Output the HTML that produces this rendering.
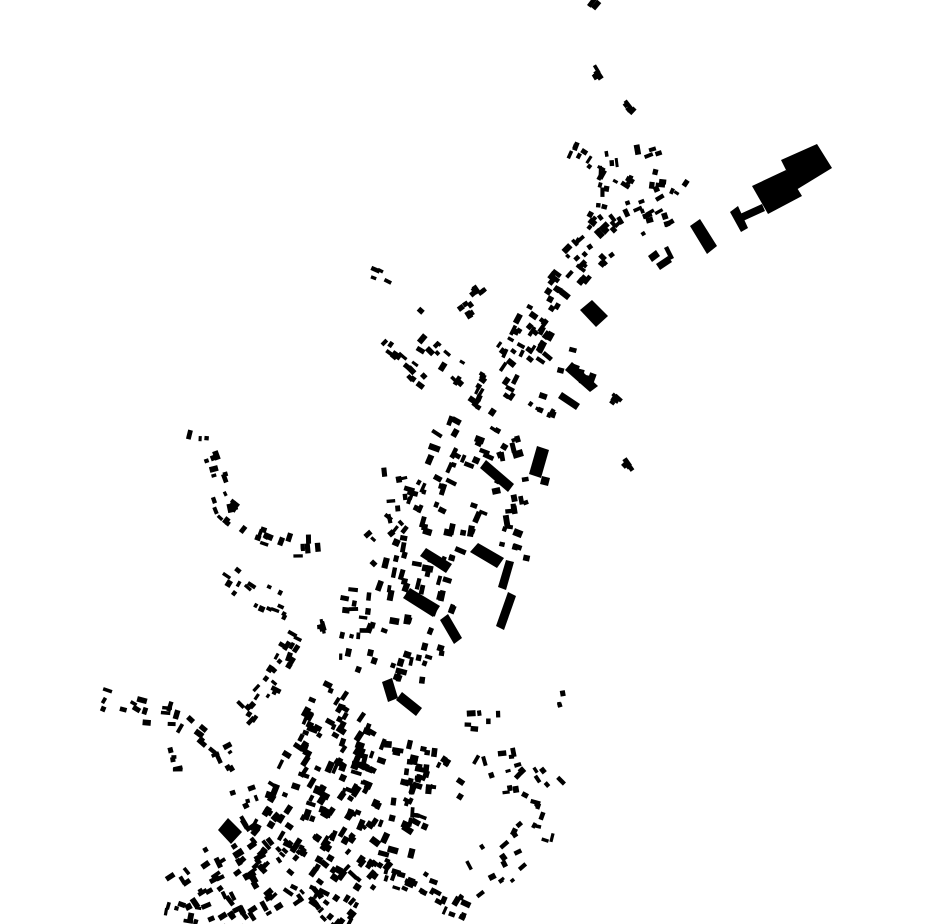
<!DOCTYPE html>
<html><head><meta charset="utf-8">
<style>html,body{margin:0;padding:0;background:#fff;width:930px;height:924px;overflow:hidden}svg{display:block}</style>
</head><body>
<svg id="s" width="930" height="924" viewBox="0 0 930 924" xmlns="http://www.w3.org/2000/svg">
<g fill="#000">
<polygon points="781,160 817,144 832,168 796,190"/>
<polygon points="752,186 786,170 802,196 768,214"/>
<polygon points="730,212 738,206 748,228 741,232"/>
<polygon points="740,214 762,204 765,211 743,221"/>
<polygon points="690,226 700,219 717,246 707,254"/>
<polygon points="580,310 592,300 608,316 596,327"/>
<polygon points="537,446 549,450 541,478 529,474"/>
<polygon points="542,476 550,478 548,486 540,484"/>
<polygon points="403,598 410,588 440,606 433,617"/>
<polygon points="420,556 426,548 452,564 446,573"/>
<polygon points="470,552 478,543 504,558 497,568"/>
<polygon points="506,560 514,562 506,590 498,587"/>
<polygon points="218,830 228,818 242,832 231,844"/>
<polygon points="382,682 392,678 398,698 388,702"/>
<polygon points="396,700 402,692 422,708 416,716"/>
<polygon points="565,370 572,362 598,386 590,392"/>
<polygon points="558,398 562,392 580,404 576,410"/>
<polygon points="648,256 656,250 660,256 652,262"/>
<polygon points="656,264 668,256 672,262 660,270"/>
<polygon points="664,248 668,246 674,258 670,260"/>
<polygon points="440,620 448,614 462,638 454,644"/>
<polygon points="480,468 486,460 514,484 508,492"/>
<polygon points="508,592 516,596 504,630 496,626"/>
</g>
<g id="g" fill="#000"></g>
</svg>
<script>
var seed=12345;function r(){seed=(seed*16807)%2147483647;return (seed-1)/2147483646;}
var g=document.getElementById('g'),out='';
var C=[
[[[592,0],[598,6]],3,40,1],
[[[594,68],[598,76]],3,40,1],
[[[625,104],[632,112]],3,40,1],
[[[557,145],[585,158],[610,175],[630,185]],8,16,1],
[[[605,160],[630,158],[662,150]],8,12,1],
[[[640,175],[665,180],[685,190]],10,14,1],
[[[665,205],[620,225],[590,250],[560,285],[530,330],[505,370],[480,410]],20,34,1.05],
[[[600,170],[595,210],[575,240]],10,14,1],
[[[372,272],[392,280]],5,20,1],
[[[418,312],[420,314]],3,30,1],
[[[460,310],[500,282]],10,20,1],
[[[380,345],[430,385]],8,22,1],
[[[420,340],[470,380]],10,18,1],
[[[530,340],[560,360],[600,370]],15,16,1.2],
[[[520,390],[560,410]],10,16,1],
[[[612,398],[622,406]],4,30,1],
[[[622,460],[630,470]],4,30,1],
[[[485,420],[460,470],[440,520],[425,570],[410,620],[395,680]],40,38,1.15],
[[[500,440],[520,520],[510,560]],18,18,1.2],
[[[390,470],[400,520],[360,560],[355,620],[350,660]],14,14,1],
[[[185,437],[210,440]],4,10,1],
[[[205,450],[215,480],[225,510],[250,530],[290,545],[318,545]],12,20,1],
[[[222,570],[250,590],[290,610]],12,20,1],
[[[300,630],[285,660],[265,690],[240,720]],12,24,1],
[[[320,605],[325,630]],5,20,1],
[[[100,695],[140,712],[185,720],[220,745],[240,780],[250,810]],12,16,1],
[[[175,745],[180,790]],6,10,1],
[[[360,700],[340,740],[320,780],[300,820],[280,850],[240,880],[190,910]],45,64,1.15],
[[[400,740],[390,790],[370,830],[340,870],[310,915]],40,48,1.15],
[[[420,770],[410,820],[395,860]],20,20,1.1],
[[[260,840],[300,880],[330,915]],20,22,1],
[[[430,760],[470,780],[520,770],[545,800],[530,840],[500,860],[470,880]],25,20,1],
[[[460,720],[500,720]],10,15,1],
[[[380,870],[420,885],[470,910]],15,28,1],
[[[160,905],[200,915]],10,20,1],
[[[560,690],[565,712]],4,15,1]
];
C.forEach(function(c){var p=c[0];for(var i=0;i<p.length-1;i++){var a=p[i],b=p[i+1],dx=b[0]-a[0],dy=b[1]-a[1],L=Math.hypot(dx,dy)||4,n=Math.max(1,Math.round(L*c[2]/100)),ang=Math.atan2(dy,dx)*180/Math.PI;
for(var k=0;k<n;k++){var t=r(),o=(r()*2-1)*c[1],x=a[0]+dx*t-dy/L*o,y=a[1]+dy*t+dx/L*o;
var w=(4+r()*6)*c[3],h=(3+r()*3)*c[3];var rot=ang+(r()<0.4?90:0)+(r()*16-8);
out+='<rect x="'+(-w/2).toFixed(1)+'" y="'+(-h/2).toFixed(1)+'" width="'+w.toFixed(1)+'" height="'+h.toFixed(1)+'" transform="translate('+x.toFixed(1)+','+y.toFixed(1)+') rotate('+rot.toFixed(0)+')"/>';}}});
g.innerHTML=out;
</script>
</body></html>
